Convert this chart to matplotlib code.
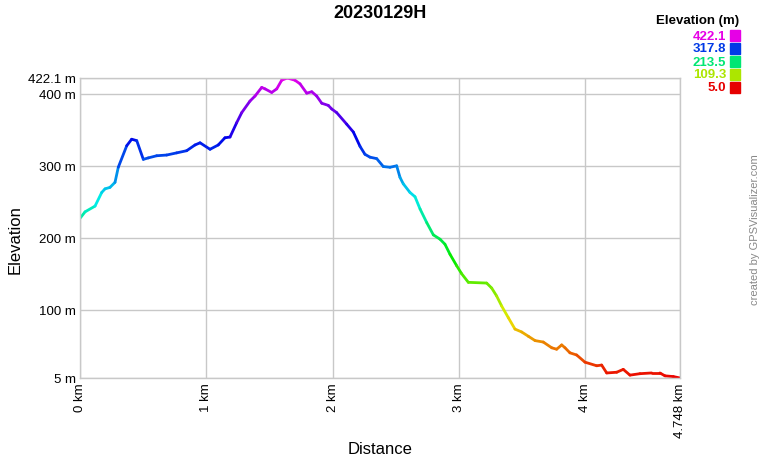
import numpy as np
import matplotlib
matplotlib.use("Agg")
import matplotlib.pyplot as plt
from matplotlib.collections import LineCollection
from matplotlib.colors import hsv_to_rgb

plt.rcParams['font.family'] = ['Liberation Sans', 'DejaVu Sans']

title = "20230129H"

# track profile
dist_km = [0.000, 0.040, 0.119, 0.172, 0.198, 0.237, 0.277, 0.303, 0.370, 0.409,
           0.449, 0.501, 0.540, 0.607, 0.686, 0.765, 0.844, 0.910, 0.950, 1.029,
           1.094, 1.147, 1.187, 1.240, 1.280, 1.345, 1.385, 1.438, 1.464, 1.517,
           1.557, 1.596, 1.640, 1.701, 1.741, 1.794, 1.834, 1.873, 1.913, 1.965,
           1.992, 2.031, 2.110, 2.163, 2.216, 2.255, 2.295, 2.348, 2.400, 2.453,
           2.506, 2.532, 2.558, 2.611, 2.651, 2.691, 2.744, 2.796, 2.849, 2.888,
           2.928, 2.981, 3.020, 3.073, 3.218, 3.258, 3.297, 3.337, 3.389, 3.442,
           3.495, 3.548, 3.601, 3.666, 3.733, 3.772, 3.812, 3.838, 3.877, 3.930,
           3.996, 4.089, 4.128, 4.168, 4.247, 4.299, 4.352, 4.431, 4.524, 4.589,
           4.629, 4.695, 4.748]
elev_m = [227, 236, 244, 263, 268, 270, 277, 298, 328, 337,
          335, 309, 311, 314, 315, 318, 321, 329, 332, 323,
          329, 339, 340, 360, 374, 390, 397, 409, 407, 402,
          407, 419, 422.1, 419, 414, 401, 403, 397, 387, 384,
          379, 374, 358, 347, 327, 316, 312, 310, 299, 298,
          300, 284, 275, 263, 257, 240, 221, 204, 198, 191,
          177, 161, 150, 138, 137, 130, 119, 105, 89, 73,
          69, 63, 57, 55, 47, 45, 51, 47, 40, 37,
          27, 22, 23, 12, 13, 17, 9, 11, 12, 12,
          8, 7, 5]

y_ticks = [5, 100, 200, 300, 400, 422.1]
y_labels = ["5 m", "100 m", "200 m", "300 m", "400 m", "422.1 m"]
x_ticks = [0, 1, 2, 3, 4, 4.748]
x_labels = ["0 km", "1 km", "2 km", "3 km", "4 km", "4.748 km"]
legend_vals = [422.1, 317.8, 213.5, 109.3, 5.0]

e_min, e_max = min(elev_m), max(elev_m)


def elev_color(e, v=0.92):
    h = (e - e_min) / (e_max - e_min) * (300 / 360)
    return hsv_to_rgb([h, 1.0, v])


fig = plt.figure(figsize=(7.6, 4.6), dpi=100)
ax = fig.add_axes([80 / 760, 81 / 460, 600 / 760, 300 / 460])

# colour each segment by its elevation
x = np.array(dist_km)
y = np.array(elev_m)
pts = np.column_stack([x, y]).reshape(-1, 1, 2)
segs = np.concatenate([pts[:-1], pts[1:]], axis=1)
cols = [elev_color((a + b) / 2) for a, b in zip(y[:-1], y[1:])]
lc = LineCollection(segs, colors=cols, linewidths=2.0, capstyle='round', joinstyle='round')
ax.add_collection(lc)

ax.set_xlim(0, 4.748)
ax.set_ylim(5, 422.1)
ax.set_yticks(y_ticks)
ax.set_yticklabels(y_labels, fontsize=9.5)
ax.set_xticks(x_ticks)
ax.set_xticklabels(x_labels, fontsize=9.5, rotation=90)
ax.tick_params(length=0, pad=3)
ax.grid(True, color='#c8c8c8', linewidth=1)
ax.set_axisbelow(True)
for s in ax.spines.values():
    s.set_color('#c8c8c8')
    s.set_linewidth(1)

# axis titles placed where the reference has them
fig.text(15 / 760, 1 - 240 / 460, "Elevation", rotation=90, ha='center', va='center',
         fontsize=12)
fig.text(380 / 760, 1 - 450 / 460, "Distance", ha='center', va='center', fontsize=12)

fig.text(380 / 760, 1 - 14 / 460, title, ha='center', va='center',
         fontsize=13, fontweight='bold')

# legend on the top right
fig.text(739 / 760, 1 - 21 / 460, "Elevation (m)", ha='right', va='center',
         fontsize=9.5, fontweight='bold')
for i, val in enumerate(legend_vals):
    yc = 1 - (36.5 + i * 13) / 460
    c = elev_color(val, v=0.9)
    fig.text(726 / 760, yc, f"{val:.1f}", ha='right', va='center',
             fontsize=9.5, fontweight='bold', color=c)
    fig.patches.append(plt.Rectangle((730 / 760, yc - 5.5 / 460), 10 / 760, 11 / 460,
                                     transform=fig.transFigure, color=c))

fig.text(755 / 760, 1 - 230 / 460, "created by GPSVisualizer.com", rotation=90,
         ha='center', va='center', fontsize=8, color='#888888')

fig.savefig("out.png", dpi=100)
